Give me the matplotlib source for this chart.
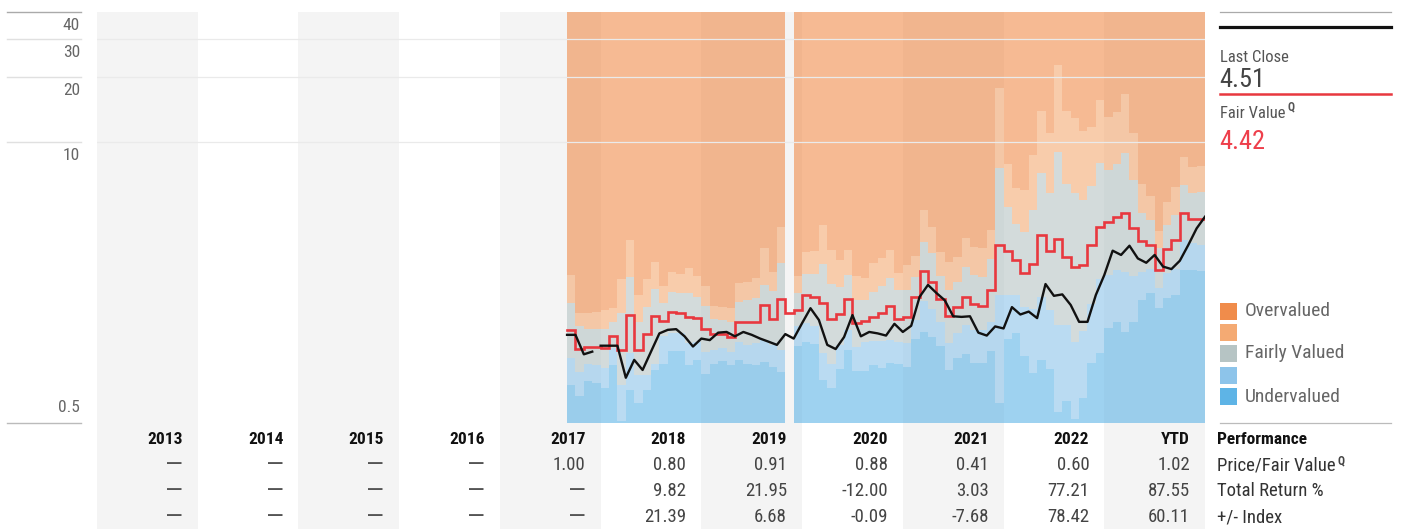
import numpy as np
import matplotlib
matplotlib.use("Agg")
import matplotlib.pyplot as plt
from matplotlib import font_manager as fm
from matplotlib import transforms as mtransforms
from matplotlib.patches import Rectangle
from matplotlib.lines import Line2D

# ---------------- data ----------------
YEAR_LABELS = ["2013", "2014", "2015", "2016", "2017", "2018", "2019", "2020", "2021", "2022", "YTD"]
PRICE_FAIR_VALUE = [None, None, None, None, 1.00, 0.80, 0.91, 0.88, 0.41, 0.60, 1.02]
TOTAL_RETURN = [None, None, None, None, None, 9.82, 21.95, -12.00, 3.03, 77.21, 87.55]
INDEX_DIFF = [None, None, None, None, None, 21.39, 6.68, -0.09, -7.68, 78.42, 60.11]
ROW_LABELS = ["Price/Fair Value", "Total Return %", "+/- Index"]

START_YEAR, START_MONTH = 2017, 9   # monthly data starts Sep 2017
nan = np.nan

# band upper boundaries, one per month (NaN = missing month)
UNDERVALUED_TOP = [0.75, 0.67, 0.78, 0.77, 0.73, 0.93, 0.51, 0.71, 0.62, 0.71,
                   0.88, 0.94, 1.08, 1.08, 0.93, 0.98, 0.84, 0.94, 0.97, 0.93,
                   0.98, 0.94, 0.93, 0.96, 0.91, 0.86, nan, 1.14, 1.19, 1.16,
                   0.79, 0.73, 0.89, 1.09, 0.87, 0.87, 0.93, 0.90, 0.95, 0.94,
                   0.91, 1.22, 1.32, 1.25, 1.14, 0.88, 1.00, 1.04, 0.95, 0.95,
                   1.08, 0.62, 1.23, 1.30, 1.02, 0.85, 0.98, 0.89, 0.56, 0.63,
                   0.52, 0.65, 0.95, 1.05, 1.37, 1.46, 1.32, 1.46, 1.85, 2.00,
                   1.70, 1.90, 1.96, 2.55, 2.55, 2.52]
LIGHT_BLUE_TOP = [1.00, 0.86, 0.94, 0.93, 0.90, 1.11, 0.75, 1.05, 0.83, 0.83,
                  0.94, 1.26, 1.31, 1.31, 1.17, 1.19, 1.07, 1.09, 1.11, 1.07,
                  1.19, 1.15, 1.17, 1.21, 1.15, 1.09, nan, 1.40, 1.45, 1.40,
                  1.05, 0.94, 1.15, 1.35, 1.12, 1.19, 1.20, 1.20, 1.21, 1.19,
                  1.17, 1.50, 1.84, 1.68, 1.46, 1.17, 1.30, 1.42, 1.35, 1.35,
                  1.47, 1.96, 1.96, 1.96, 1.73, 1.69, 1.92, 1.67, 1.42, 1.42,
                  1.19, 1.33, 1.77, 2.31, 2.42, 2.55, 2.51, 2.40, 2.51, 2.58,
                  2.10, 2.47, 2.58, 3.52, 3.40, 3.34]
FAIRLY_TOP = [1.79, 1.41, 1.36, 1.36, 1.36, 1.47, 1.61, 2.36, 1.47, 1.73,
              2.08, 1.80, 2.03, 2.00, 2.00, 1.91, 1.74, 1.51, 1.50, 1.47,
              1.82, 1.85, 1.89, 2.18, 2.05, 2.74, nan, 2.00, 2.45, 2.45,
              2.72, 2.20, 2.14, 2.42, 1.85, 1.85, 2.03, 2.15, 2.34, 2.06,
              2.06, 2.37, 3.45, 3.05, 2.39, 2.06, 2.26, 2.65, 2.42, 2.37,
              2.86, 7.60, 5.00, 4.17, 3.84, 4.84, 7.20, 5.80, 9.00, 6.40,
              5.80, 5.40, 6.25, 8.00, 7.40, 7.90, 8.90, 6.70, 4.70, 4.35,
              3.22, 4.13, 4.60, 6.30, 5.80, 5.90]
LIGHT_ORANGE_TOP = [2.42, 1.62, 1.61, 1.63, 1.66, 1.70, 2.32, 3.52, 1.96, 2.32,
                    2.78, 2.15, 2.51, 2.45, 2.60, 2.39, 2.15, 1.74, 1.72, 1.70,
                    2.22, 2.26, 2.34, 3.24, 2.51, 4.03, nan, 2.39, 3.08, 3.14,
                    4.13, 3.16, 2.84, 3.16, 2.39, 2.35, 2.76, 2.89, 3.16, 2.47,
                    2.70, 2.96, 4.84, 4.05, 3.08, 2.79, 2.94, 3.58, 3.27, 3.22,
                    3.91, 17.7, 7.90, 6.10, 6.00, 8.70, 13.9, 11.0, 22.7, 13.9,
                    12.9, 11.2, 11.7, 15.6, 13.1, 13.8, 16.7, 11.0, 6.40, 5.60,
                    3.88, 5.30, 6.20, 8.50, 7.70, 7.75]
FAIR_VALUE = [1.35, 1.10, 1.13, 1.13, 1.11, 1.27, 1.09, 1.58, 1.09, 1.29,
              1.56, 1.49, 1.64, 1.61, 1.55, 1.53, 1.36, 1.29, 1.29, 1.25,
              1.47, 1.46, 1.47, 1.76, 1.51, 1.87, 1.61, 1.67, 1.96, 1.92,
              1.80, 1.51, 1.59, 1.87, 1.45, 1.49, 1.55, 1.61, 1.74, 1.51,
              1.55, 1.91, 2.52, 2.26, 1.87, 1.56, 1.72, 1.92, 1.77, 1.74,
              2.06, 3.33, 3.14, 2.84, 2.47, 2.72, 3.71, 3.14, 3.54, 2.94,
              2.63, 2.70, 3.33, 4.03, 4.28, 4.51, 4.70, 3.98, 3.48, 3.33,
              2.55, 3.18, 3.52, 4.67, 4.40, 4.42]
PRICE = [1.28, 1.28, 1.04, 1.07, 1.14, 1.14, 1.14, 0.81, 0.98, 0.88,
         1.07, 1.30, 1.35, 1.36, 1.26, 1.13, 1.23, 1.21, 1.31, 1.32,
         1.26, 1.32, 1.28, 1.23, 1.19, 1.15, 1.29, 1.23, 1.45, 1.70,
         1.50, 1.15, 1.10, 1.25, 1.58, 1.26, 1.32, 1.30, 1.27, 1.44,
         1.32, 1.41, 1.92, 2.18, 2.00, 1.85, 1.56, 1.55, 1.56, 1.31,
         1.27, 1.40, 1.37, 1.72, 1.59, 1.64, 1.53, 2.20, 1.94, 1.97,
         1.76, 1.47, 1.47, 1.96, 2.42, 3.14, 3.00, 3.31, 2.89, 2.76,
         3.00, 2.65, 2.58, 2.82, 3.33, 3.98, 4.51]
PRICE_BREAK_BEFORE = 4   # no price line between points 3 and 4

LAST_CLOSE = "4.51"
FAIR_VALUE_LAST = "4.42"
LEGEND_LABELS = ["Overvalued", "", "Fairly Valued", "", "Undervalued"]
Y_TICKS = [40, 30, 20, 10, 0.5]
Y_MIN, Y_MAX = 0.5, 40

# ---------------- style ----------------
BAND_COLORS = ["#5EB4E6", "#8DC4EA", "#B6C4C4", "#F4AA73", "#F08C4B"]  # bottom -> top
BAND_ALPHA = 0.6
RED = "#E8383F"
W, H = 1411, 529

avail = {f.name for f in fm.fontManager.ttflist}
FONT = next((f for f in ["Roboto Condensed", "Liberation Sans Narrow", "Arial Narrow", "Roboto"]
             if f in avail), "DejaVu Sans")
plt.rcParams["font.family"] = [FONT, "DejaVu Sans"]


def fx(px):
    return px / W


def fy(py):
    return 1 - py / H


fig = plt.figure(figsize=(W / 100, H / 100), dpi=100)
fig.patch.set_facecolor("white")

# background columns (plot + table)
bg = fig.add_axes([fx(97), 0, fx(1108), (H - 12) / H])
bg.set_xlim(2013, 2024)
bg.set_ylim(0, 1)
bg.axis("off")
for k in range(len(YEAR_LABELS)):
    if k % 2 == 0:
        bg.axvspan(2013 + k, 2014 + k, color="#F4F4F4", lw=0, zorder=0)

# main log axes
ax = fig.add_axes([fx(97), fy(423), fx(1108), (423 - 12) / H])
ax.set_facecolor("none")
ax.set_yscale("log")
ax.set_ylim(Y_MIN, Y_MAX)
ax.set_xlim(2013, 2024)
ax.axis("off")

n = len(FAIR_VALUE)
start = START_YEAR + (START_MONTH - 1) / 12
x_edges = start + np.arange(n + 1) / 12


def step_fill(lower, upper, color):
    lower = np.asarray(lower, float)
    upper = np.asarray(upper, float)
    bad = np.isnan(lower) | np.isnan(upper)
    i = 0
    while i < len(lower):
        if bad[i]:
            i += 1
            continue
        j = i
        while j < len(lower) and not bad[j]:
            j += 1
        xs = x_edges[i:j + 1]
        lo = np.append(lower[i:j], lower[j - 1])
        hi = np.append(upper[i:j], upper[j - 1])
        ax.fill_between(xs, lo, hi, step="post", color=color, alpha=BAND_ALPHA,
                        lw=0, antialiased=False, zorder=1)
        i = j


tops = [np.array(UNDERVALUED_TOP, float), np.array(LIGHT_BLUE_TOP, float),
        np.array(FAIRLY_TOP, float), np.array(LIGHT_ORANGE_TOP, float)]
mask = np.isnan(tops[0])
bottoms = [np.where(mask, nan, Y_MIN)] + tops
uppers = tops + [np.where(mask, nan, Y_MAX)]
for lo, hi, c in zip(bottoms, uppers, BAND_COLORS):
    step_fill(lo, hi, c)

for g in [10, 20, 30]:
    ax.axhline(g, color="#EAEAEA", lw=0.9, zorder=3)

# fair value step line
fv = np.array(FAIR_VALUE, float)
ax.step(x_edges, np.append(fv, fv[-1]), where="post", color=RED, lw=1.9, zorder=5,
        solid_joinstyle="miter")

# price line
px_ = start + np.arange(len(PRICE)) / 12
py_ = np.array(PRICE, float)
b = PRICE_BREAK_BEFORE
px_ = np.insert(px_, b, (px_[b - 1] + px_[b]) / 2)
py_ = np.insert(py_, b, np.nan)
ax.plot(px_, py_, color="#111111", lw=1.7, zorder=6, solid_joinstyle="round")

# y labels + left guide lines
y_log = lambda v: 423 - (np.log10(v) - np.log10(Y_MIN)) / (np.log10(Y_MAX) - np.log10(Y_MIN)) * 411
for v in Y_TICKS:
    yp = y_log(v)
    col = "#AAAAAA" if v == Y_MAX else ("#BBBBBB" if v == Y_MIN else "#E0E0E0")
    fig.add_artist(Line2D([fx(7), fx(81)], [fy(yp), fy(yp)], color=col, lw=1.0))
    lab = f"{v:g}"
    ybase = yp - 11 if v == Y_MIN else yp + 18
    fig.text(fx(80), fy(ybase), lab, ha="right", va="baseline", fontsize=12.5, color="#666666")

# table
trans = mtransforms.blended_transform_factory(bg.transData, fig.transFigure)
pad = 15 / (1108 / 11)
row_base = [444, 470, 496, 522]
for k, lab in enumerate(YEAR_LABELS):
    xr = 2014 + k - pad
    fig.text(xr, fy(row_base[0]), lab, transform=trans, ha="right", va="baseline",
             fontsize=12.5, fontweight="bold", color="#111111")
    for r, series in enumerate([PRICE_FAIR_VALUE, TOTAL_RETURN, INDEX_DIFF]):
        v = series[k]
        if v is None:
            fig.text(xr, fy(row_base[r + 1] + 2), "\u2014", transform=trans, ha="right",
                     va="baseline", fontsize=19, color="#555555")
        else:
            fig.text(xr, fy(row_base[r + 1]), f"{v:.2f}", transform=trans, ha="right",
                     va="baseline", fontsize=13.5, color="#444444")

renderer = fig.canvas.get_renderer()

fig.text(fx(1217), fy(row_base[0]), "Performance", ha="left", va="baseline",
         fontsize=12.5, fontweight="bold", color="#111111")
row_texts = []
for r, lab in enumerate(ROW_LABELS):
    row_texts.append(fig.text(fx(1217), fy(row_base[r + 1]), lab, ha="left", va="baseline",
                              fontsize=13.5, color="#333333"))
ext = row_texts[0].get_window_extent(renderer)
fig.text((ext.x1 + 2) / W, fy(454), "Q", ha="left", va="top", fontsize=8.5,
         fontweight="bold", color="#444444")

# right info panel
fig.add_artist(Line2D([fx(1220), fx(1391)], [fy(12), fy(12)], color="#AAAAAA", lw=0.9))
fig.add_artist(Line2D([fx(1220), fx(1391)], [fy(26.5), fy(26.5)], color="#111111", lw=2.3))
fig.text(fx(1220), fy(62), "Last Close", ha="left", va="baseline", fontsize=12, color="#555555")
fig.text(fx(1219), fy(87), LAST_CLOSE, ha="left", va="baseline", fontsize=19, color="#444444")
fig.add_artist(Line2D([fx(1220), fx(1391)], [fy(93.5), fy(93.5)], color=RED, lw=1.8))
fv_lab = fig.text(fx(1220), fy(118), "Fair Value", ha="left", va="baseline", fontsize=12,
                  color="#555555")
ext = fv_lab.get_window_extent(renderer)
fig.text((ext.x1 + 2) / W, fy(100), "Q", ha="left", va="top", fontsize=8.5,
         fontweight="bold", color="#555555")
fig.text(fx(1219), fy(149), FAIR_VALUE_LAST, ha="left", va="baseline", fontsize=19, color="#EE3F4B")

# legend
leg_centers = [311.5, 332.5, 353.5, 375, 396.5]
for lab, c, yc in zip(LEGEND_LABELS, BAND_COLORS[::-1], leg_centers):
    fig.add_artist(Rectangle((fx(1220), fy(yc + 8.5)), fx(17), 17 / H, color=c, lw=0))
    if lab:
        fig.text(fx(1245), fy(yc), lab, ha="left", va="center", fontsize=14, color="#666666")
fig.add_artist(Line2D([fx(1220), fx(1391)], [fy(423), fy(423)], color="#BBBBBB", lw=0.9))

fig.savefig("out.png", dpi=100, facecolor="white")
